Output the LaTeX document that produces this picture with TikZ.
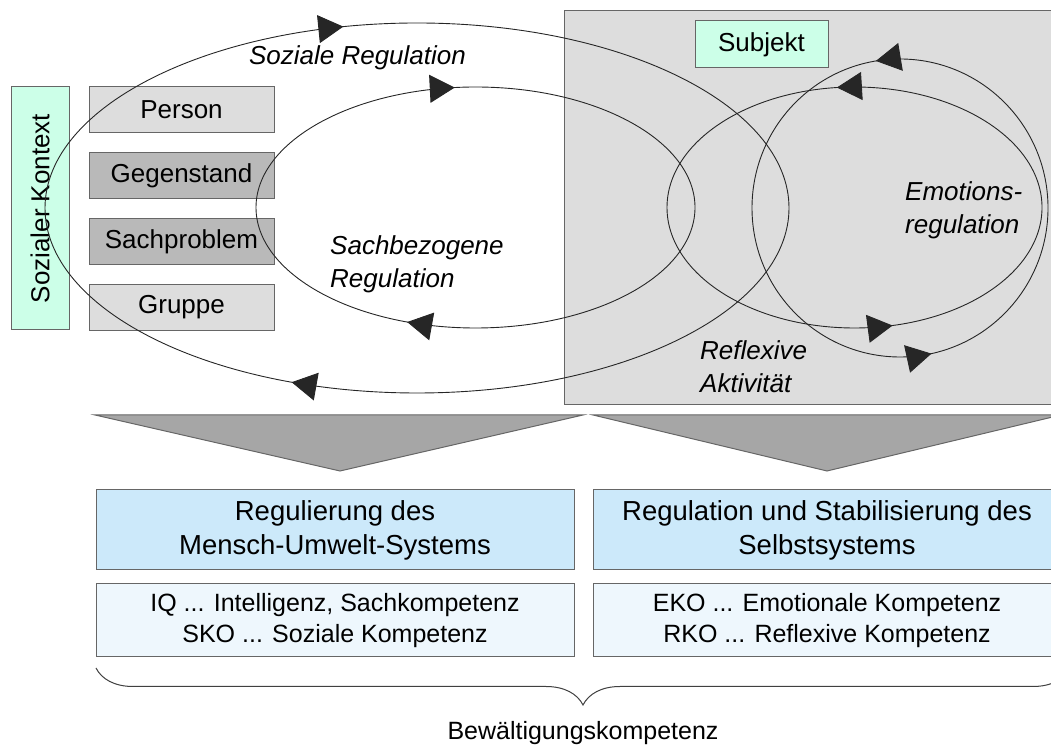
\documentclass[tikz,border=0pt]{standalone}
\usepackage{fontspec}
\setmainfont{Liberation Sans}
\usetikzlibrary{arrows.meta,decorations.markings,decorations.pathreplacing}

\definecolor{mint}{RGB}{204,255,232}
\definecolor{kopfblau}{RGB}{204,233,250}
\definecolor{fussblau}{RGB}{238,247,253}
\definecolor{hellgrau}{RGB}{221,221,221}
\definecolor{mittelgrau}{RGB}{185,185,185}
\definecolor{pfeilgrau}{RGB}{166,166,166}

\begin{document}
\begin{tikzpicture}[x=1pt, y=1pt, >={Triangle[length=25pt, width=28pt]},
  box/.style={draw=black!60, line width=1pt, minimum width=185pt, minimum height=46pt, inner sep=0pt, font=\fontsize{26}{30}\selectfont},
  kopf/.style={draw=black!60, line width=1pt, fill=kopfblau, minimum height=80pt, align=center, font=\fontsize{27.5}{34}\selectfont},
  fuss/.style={draw=black!60, line width=1pt, fill=fussblau, minimum height=73pt, align=center, font=\fontsize{25}{31}\selectfont},
  kreis/.style={draw=black!85, line width=0.9pt, postaction={decorate}},
  regel/.style={align=left, inner sep=0pt, font=\fontsize{26}{33}\selectfont\itshape}]

  \useasboundingbox (0,0) rectangle (1051,746);

  % Subjekt-Bereich
  \draw [draw=black!60, line width=1pt, fill=hellgrau] (564,341) rectangle (1062,735);
  \node [box, fill=mint, minimum width=133pt, minimum height=47pt] (subjekt) at (761.5,701.5) {Subjekt};

  % Sozialer Kontext
  \node [box, fill=mint, minimum width=243pt, minimum height=58pt, rotate=90] (kontext) at (40,537.5) {Sozialer Kontext};
  \foreach \name/\farbe [count=\i] in {Person/hellgrau, Gegenstand/mittelgrau, Sachproblem/mittelgrau, Gruppe/hellgrau}
      \node [box, fill=\farbe] (objekt-\i) at (181.5,701.8-65.8*\i) {\name};

  % Regulationskreise
  \draw [kreis, decoration={markings,
      mark=at position 0.291 with {\arrowreversed{>}},
      mark=at position 0.680 with {\arrowreversed{>}}}]
      (417,538) ellipse [x radius=372pt, y radius=185pt];
  \draw [kreis, decoration={markings,
      mark=at position 0.269 with {\arrowreversed{>}},
      mark=at position 0.687 with {\arrowreversed{>}}}]
      (475.5,538.5) ellipse [x radius=219.5pt, y radius=120.5pt];
  \draw [kreis, decoration={markings,
      mark=at position 0.268 with {\arrow{>}},
      mark=at position 0.789 with {\arrow{>}}}]
      (854.5,538.5) ellipse [x radius=187.5pt, y radius=120.5pt];
  \draw [kreis, decoration={markings,
      mark=at position 0.276 with {\arrow{>}},
      mark=at position 0.784 with {\arrow{>}}}]
      (900,538) ellipse [x radius=148pt, y radius=149pt];

  \node [regel] (sozial) at (357.5,688) {Soziale Regulation};
  \node [regel, anchor=west] (sachbezogen) at (330,482) {Sachbezogene\\Regulation};
  \node [regel, anchor=west] (emotion) at (905,536) {Emotions-\\regulation};
  \node [regel, anchor=west] (reflexiv) at (700,379) {Reflexive\\Aktivität};

  % Ableitung
  \draw [draw=black!60, line width=1pt, fill=pfeilgrau] (95,331) -- (583,331) -- (340,275) -- cycle;
  \draw [draw=black!60, line width=1pt, fill=pfeilgrau] (593,331) -- (1061,331) -- (827,275) -- cycle;

  % Kompetenzen
  \node [kopf, minimum width=478pt] (kopf-links) at (335,216) {Regulierung des\\Mensch-Umwelt-Systems};
  \node [kopf, minimum width=468pt] (kopf-rechts) at (827,216) {Regulation und Stabilisierung des\\Selbstsystems};
  \node [fuss, minimum width=478pt] (fuss-links) at (335,125.5) {IQ ... Intelligenz, Sachkompetenz\\SKO ... Soziale Kompetenz};
  \node [fuss, minimum width=468pt] (fuss-rechts) at (827,125.5) {EKO ... Emotionale Kompetenz\\RKO ... Reflexive Kompetenz};

  \draw [black!75, line width=1pt, decorate, decoration={brace, amplitude=37pt}] (1070,78) -- (96,78);
  \node [font=\fontsize{25}{30}\selectfont] (bewaeltigung) at (583,13) {Bewältigungskompetenz};

\end{tikzpicture}
\end{document}
